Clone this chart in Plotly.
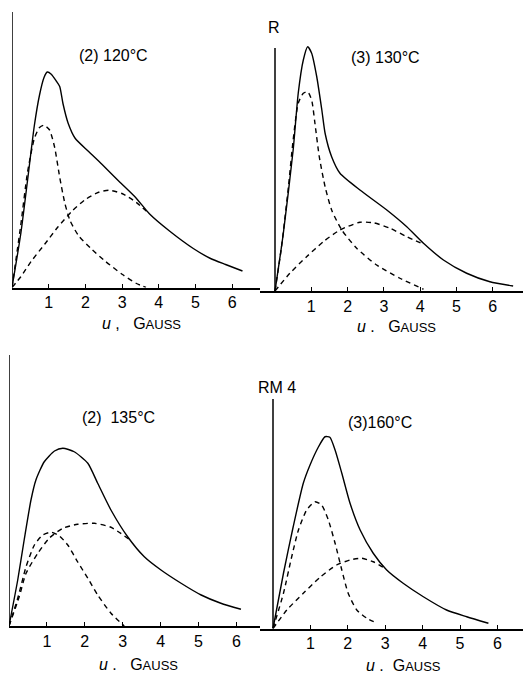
import plotly.graph_objects as go

# The page body adds an 8px offset; reference pixel p sits at figure pixel p - OFF
OFF = 8
W, H = 531 - OFF, 678 - OFF

# ---------------- data (u in Gauss, R in arbitrary units) ----------------
# Panel A: (2) 120°C
a_solid_u = [0, 0.24, 0.42, 0.61, 0.75, 0.87, 0.96, 1.07, 1.21, 1.30, 1.39, 1.53, 1.72, 2.08, 2.45, 2.92, 3.38, 3.75, 4.30, 4.94, 5.41, 5.82, 6.28]
a_solid_r = [0, 2.16, 4.24, 6.49, 7.70, 8.39, 8.62, 8.53, 8.25, 8.04, 7.35, 6.57, 5.97, 5.45, 4.93, 4.24, 3.58, 2.94, 2.25, 1.56, 1.16, 0.92, 0.66]
a_narrow_u = [0, 0.24, 0.42, 0.61, 0.75, 0.87, 1.02, 1.16, 1.30, 1.44, 1.58, 1.81, 2.18, 2.55, 3.01, 3.38, 3.65]
a_narrow_r = [0, 2.51, 4.58, 5.97, 6.40, 6.49, 6.31, 5.62, 4.41, 3.37, 2.68, 2.08, 1.52, 1.04, 0.52, 0.17, 0]
a_broad_u = [0, 0.24, 0.52, 0.89, 1.25, 1.62, 1.99, 2.36, 2.64, 3.01, 3.38, 3.75]
a_broad_r = [0, 0.43, 1.04, 1.73, 2.42, 3.03, 3.51, 3.81, 3.89, 3.75, 3.41, 2.94]

# Panel B: (3) 130°C
b_solid_u = [0, 0.23, 0.50, 0.64, 0.78, 0.90, 1.01, 1.15, 1.29, 1.38, 1.56, 1.79, 2.34, 3.08, 3.63, 4.09, 4.64, 5.28, 5.92, 6.56]
b_solid_r = [0, 2.31, 5.64, 7.91, 9.24, 9.77, 9.51, 8.57, 7.24, 6.31, 5.37, 4.71, 4.04, 3.24, 2.57, 1.91, 1.24, 0.71, 0.37, 0.20]
b_narrow_u = [0, 0.18, 0.37, 0.50, 0.64, 0.78, 0.90, 1.01, 1.10, 1.22, 1.38, 1.56, 1.84, 2.25, 2.80, 3.44, 4.09]
b_narrow_r = [0, 1.77, 4.17, 6.04, 7.51, 7.91, 7.97, 7.64, 6.71, 5.37, 4.17, 3.24, 2.44, 1.71, 1.04, 0.51, 0.07]
b_broad_u = [0, 0.41, 0.87, 1.33, 1.79, 2.34, 2.71, 3.17, 3.63, 4.09]
b_broad_r = [0, 0.71, 1.37, 1.97, 2.44, 2.75, 2.73, 2.51, 2.17, 1.87]

# Panel C: (2) 135°C
c_solid_u = [0, 0.23, 0.40, 0.58, 0.71, 0.93, 1.20, 1.42, 1.72, 2.08, 2.34, 2.69, 3.13, 3.57, 4.01, 4.54, 5.07, 5.59, 6.12]
c_solid_r = [0, 1.84, 3.44, 5.04, 5.84, 6.57, 7.00, 7.11, 6.97, 6.51, 5.71, 4.64, 3.57, 2.77, 2.24, 1.71, 1.24, 0.91, 0.67]
c_narrow_u = [0, 0.23, 0.45, 0.67, 0.89, 1.11, 1.33, 1.55, 1.81, 2.08, 2.34, 2.69, 3.04]
c_narrow_r = [0, 1.11, 2.37, 3.24, 3.64, 3.75, 3.60, 3.24, 2.57, 1.91, 1.24, 0.51, 0]
c_broad_u = [0, 0.27, 0.45, 0.76, 1.06, 1.42, 1.81, 2.25, 2.69, 3.17]
c_broad_r = [0, 1.17, 2.11, 2.91, 3.51, 3.91, 4.07, 4.11, 3.95, 3.47]

# Panel D: (3) 160°C
d_solid_u = [0, 0.28, 0.54, 0.81, 0.99, 1.21, 1.39, 1.52, 1.66, 1.84, 2.06, 2.33, 2.68, 3.04, 3.48, 4.02, 4.64, 5.18, 5.76]
d_solid_r = [0, 2.21, 4.07, 5.81, 6.54, 7.25, 7.67, 7.65, 7.14, 6.21, 5.01, 3.94, 3.01, 2.34, 1.81, 1.27, 0.74, 0.47, 0.21]
d_narrow_u = [0, 0.28, 0.50, 0.68, 0.90, 1.12, 1.30, 1.48, 1.66, 1.84, 2.01, 2.24, 2.51, 2.77]
d_narrow_r = [0, 1.41, 2.87, 3.94, 4.74, 5.07, 4.94, 4.34, 3.41, 2.34, 1.41, 0.74, 0.41, 0.23]
d_broad_u = [0, 0.37, 0.81, 1.26, 1.70, 2.06, 2.37, 2.68, 2.99]
d_broad_r = [0, 0.74, 1.41, 2.05, 2.54, 2.74, 2.81, 2.67, 2.41]

tick_vals = [1, 2, 3, 4, 5, 6]
tick_text = ["1", "2", "3", "4", "5", "6"]

panel_titles = ["(2)\u00a0120°C", "(3)\u00a0130°C", "(2)\u00a0\u00a0135°C", "(3)160°C"]
axis_titles = ["<i>u</i>\u00a0,\u00a0\u00a0\u00a0G<span style='font-size:13px'>AUSS</span>",
               "<i>u</i>\u00a0.\u00a0\u00a0\u00a0G<span style='font-size:13px'>AUSS</span>",
               "<i>u</i>\u00a0.\u00a0\u00a0\u00a0G<span style='font-size:13px'>AUSS</span>",
               "<i>u</i>\u00a0.\u00a0\u00a0G<span style='font-size:13px'>AUSS</span>"]
extra_labels = ["R", "RM\u00a04"]


def fx(px):
    return (px - OFF) / W


def fy(py):
    return 1 - (py - OFF) / H


# ---------------- layout geometry (reference pixels) ----------------
R_PX = 25.0  # pixels per R unit
panels = [
    dict(n="", zero=12, s=36.7, xl=12, xr=270, base=287.5, top=12, dtop=9,
         data=(a_solid_u, a_solid_r, a_narrow_u, a_narrow_r, a_broad_u, a_broad_r),
         title=(113, 55), xt=(141, 323)),
    dict(n="2", zero=275, s=36.3, xl=260, xr=531, base=291, top=48, dtop=40,
         data=(b_solid_u, b_solid_r, b_narrow_u, b_narrow_r, b_broad_u, b_broad_r),
         title=(385, 57), xt=(396, 326)),
    dict(n="3", zero=9, s=37.9, xl=9, xr=270, base=626, top=355, dtop=350,
         data=(c_solid_u, c_solid_r, c_narrow_u, c_narrow_r, c_broad_u, c_broad_r),
         title=(118, 417), xt=(138, 664)),
    dict(n="4", zero=273, s=37.4, xl=260, xr=531, base=628.5, top=399, dtop=392,
         data=(d_solid_u, d_solid_r, d_narrow_u, d_narrow_r, d_broad_u, d_broad_r),
         title=(380, 422), xt=(403, 665)),
]

FONT = "Liberation Sans"
fig = go.Figure()
shapes = []
annotations = []
layout = dict(width=W, height=H, margin=dict(l=0, r=0, t=0, b=0),
              paper_bgcolor="white", plot_bgcolor="white", showlegend=False,
              font=dict(family=FONT, color="black"))

for i, p in enumerate(panels):
    xa = "x" + p["n"]
    ya = "y" + p["n"]
    su, sr, nu, nr, bu, br = p["data"]
    for (uu, rr, dash) in [(su, sr, "solid"), (nu, nr, "5px,4px"), (bu, br, "5px,4px")]:
        fig.add_trace(go.Scatter(x=uu, y=rr, mode="lines", xaxis=xa, yaxis=ya,
                                 line=dict(color="black", width=1.4, dash=dash,
                                           shape="spline", smoothing=0.6),
                                 hoverinfo="skip"))
    xkey = "xaxis" + p["n"]
    ykey = "yaxis" + p["n"]
    layout[xkey] = dict(domain=[fx(p["xl"]), min(1, fx(p["xr"]))],
                        range=[(p["xl"] - p["zero"]) / p["s"], (p["xr"] - p["zero"]) / p["s"]],
                        anchor=ya, showline=True, linecolor="black", linewidth=1.5,
                        showgrid=False, zeroline=False, ticks="inside", ticklen=4,
                        tickwidth=1.2, tickcolor="black", tickvals=tick_vals,
                        ticktext=tick_text, tickfont=dict(size=16, family=FONT, color="black"),
                        fixedrange=True)
    layout[ykey] = dict(domain=[fy(p["base"]), fy(p["dtop"])],
                        range=[0, (p["base"] - p["dtop"]) / R_PX], anchor=xa,
                        visible=False, showgrid=False, zeroline=False, fixedrange=True)
    # vertical axis line
    shapes.append(dict(type="line", xref=xa, yref=ya, x0=0, x1=0, y0=0,
                       y1=(p["base"] - p["top"]) / R_PX,
                       line=dict(color="black", width=1.5)))
    tx, ty = p["title"]
    annotations.append(dict(text=panel_titles[i], x=fx(tx), y=fy(ty), xref="paper",
                            yref="paper", showarrow=False, xanchor="center", yanchor="middle",
                            font=dict(size=16, family=FONT, color="black")))
    ax, ay = p["xt"]
    annotations.append(dict(text=axis_titles[i], x=fx(ax), y=fy(ay), xref="paper",
                            yref="paper", showarrow=False, xanchor="center", yanchor="middle",
                            font=dict(size=16, family=FONT, color="black")))

for lbl, (lx, ly) in zip(extra_labels, [(274, 28), (277, 387)]):
    annotations.append(dict(text=lbl, x=fx(lx), y=fy(ly), xref="paper", yref="paper",
                            showarrow=False, xanchor="center", yanchor="middle",
                            font=dict(size=16, family=FONT, color="black")))

layout["shapes"] = shapes
layout["annotations"] = annotations
fig.update_layout(**layout)
fig.write_html("out.html")
